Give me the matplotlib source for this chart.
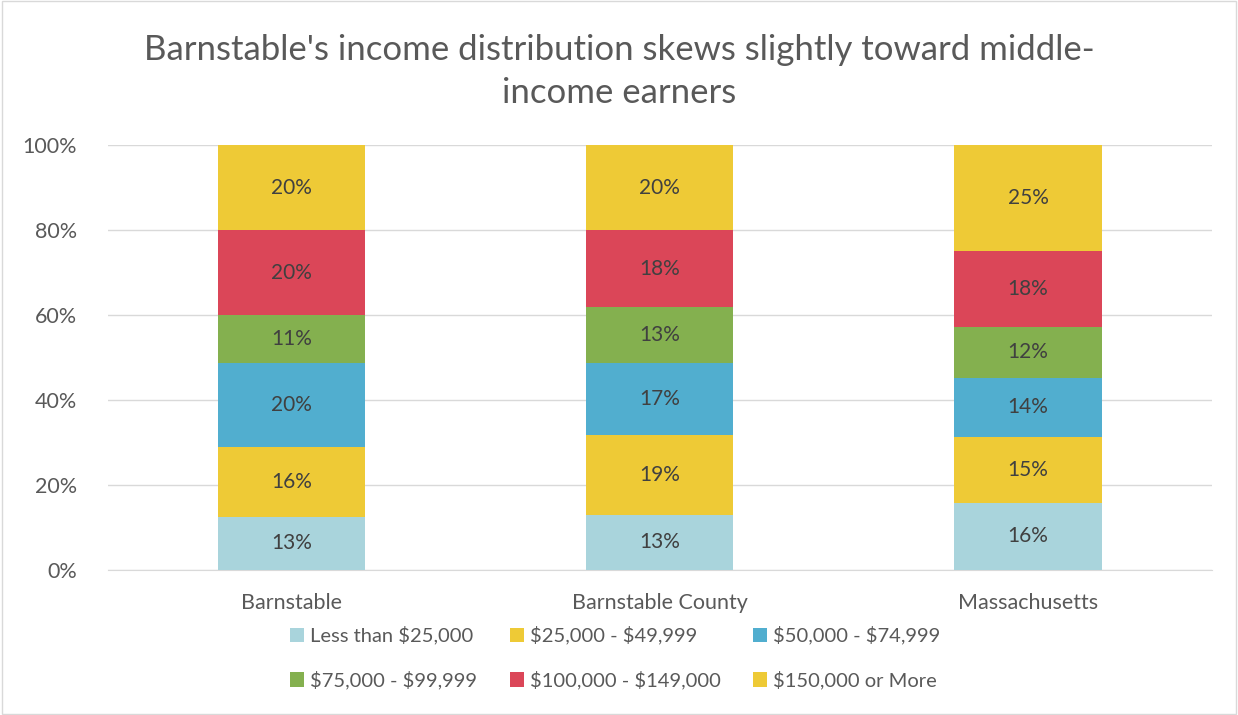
import matplotlib.pyplot as plt
import numpy as np

places = ["Barnstable", "Barnstable County", "Massachusetts"]
brackets = ["Less than $25,000", "$25,000 - $49,999", "$50,000 - $74,999",
            "$75,000 - $99,999", "$100,000 - $149,000", "$150,000 or More"]
# share of households, percent (rows = brackets, cols = places)
lt_25k = [12.5, 12.9, 15.8]
k25_50 = [16.4, 18.9, 15.5]
k50_75 = [19.8, 16.9, 13.9]
k75_100 = [11.3, 13.2, 12.0]
k100_150 = [20.0, 18.1, 17.9]
k150_up = [20.0, 20.0, 24.9]
labels = [["13%", "13%", "16%"], ["16%", "19%", "15%"], ["20%", "17%", "14%"],
          ["11%", "13%", "12%"], ["20%", "18%", "18%"], ["20%", "20%", "25%"]]

series = [lt_25k, k25_50, k50_75, k75_100, k100_150, k150_up]
colors = ["#A9D4DC", "#EECA36", "#51AECF", "#84B04F", "#DB4658", "#EECA36"]
txt = "#595959"

plt.rcParams['font.family'] = ['Lato', 'DejaVu Sans']
plt.rcParams['text.parse_math'] = False

fig = plt.figure(figsize=(12.38, 7.15), dpi=100)
ax = fig.add_axes([0.087, 0.203, 0.892, 0.594])

x = np.arange(len(places))
bottom = np.zeros(len(places))
handles = []
for vals, col, name, labs in zip(series, colors, brackets, labels):
    b = ax.bar(x, vals, 0.4, bottom=bottom, color=col, label=name, zorder=3)
    handles.append(b)
    for xi, v, bt, lab in zip(x, vals, bottom, labs):
        ax.text(xi, bt + v / 2, lab, ha="center", va="center", fontsize=15, color="#404040", zorder=4)
    bottom += np.array(vals)

ax.set_xlim(-0.5, 2.5)
ax.set_ylim(0, 100)
ax.set_yticks(range(0, 101, 20))
ax.set_yticklabels([f"{t}%" for t in range(0, 101, 20)])
ax.set_xticks(x)
ax.set_xticklabels(places)
ax.tick_params(axis="both", length=0, labelsize=15.5, labelcolor=txt)
ax.tick_params(axis="y", pad=22)
ax.tick_params(axis="x", pad=17)
ax.grid(axis="y", color="#D9D9D9", linewidth=1, zorder=0)
for s in ["top", "right", "left"]:
    ax.spines[s].set_visible(False)
ax.spines["bottom"].set_color("#D9D9D9")

fig.text(0.5, 0.9, "Barnstable's income distribution skews slightly toward middle-\nincome earners",
         ha="center", va="center", fontsize=25, color=txt, linespacing=1.4)

order = [0, 3, 1, 4, 2, 5]
leg = fig.legend([handles[i] for i in order], [brackets[i] for i in order],
                 loc="center", bbox_to_anchor=(0.497, 0.08), ncol=3, frameon=False,
                 fontsize=14.5, handlelength=0.7, handleheight=0.7, handletextpad=0.3,
                 columnspacing=1.6, labelspacing=1.3)
for t in leg.get_texts():
    t.set_color(txt)

fig.patches.append(plt.Rectangle((0.002, 0.002), 0.996, 0.996, transform=fig.transFigure,
                                 fill=False, edgecolor="#D9D9D9", linewidth=1))

fig.savefig("out.png", dpi=100)
